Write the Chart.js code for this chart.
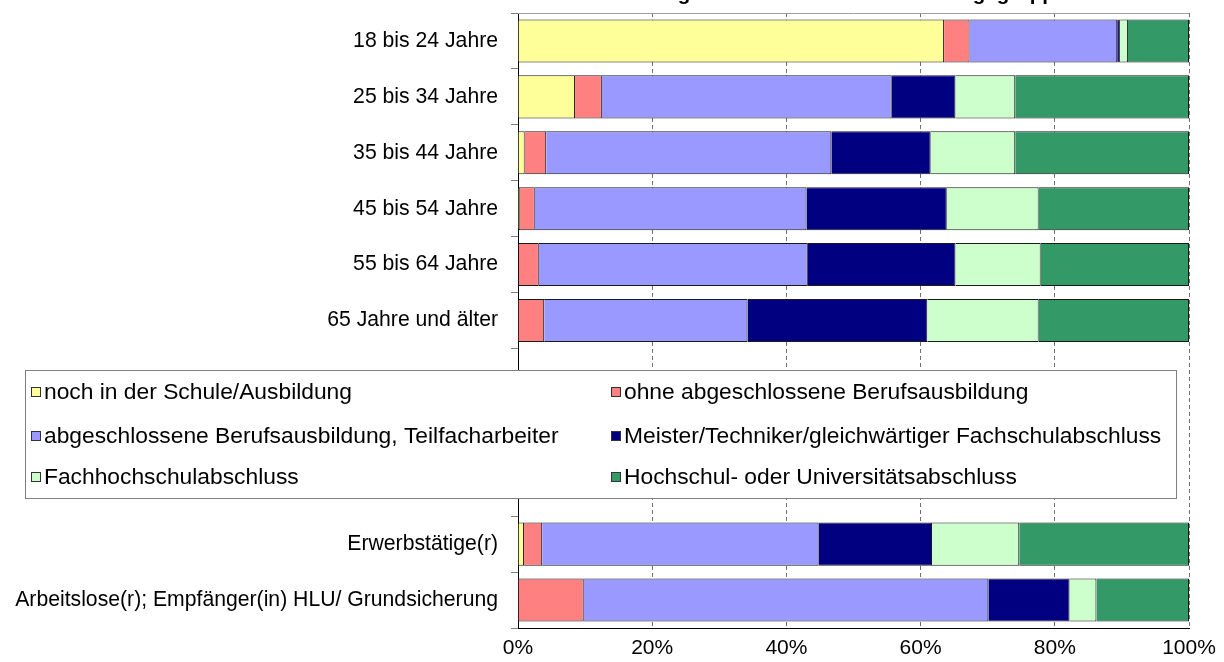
<!DOCTYPE html>
<html>
<head>
<meta charset="utf-8">
<script src="https://cdn.jsdelivr.net/npm/chart.js@4.4.1/dist/chart.umd.min.js"></script>
<style>
  html, body { margin: 0; padding: 0; background: #fff; }
  #wrap { width: 1224px; height: 662px; position: relative; }
</style>
</head>
<body>
<div id="wrap"><canvas id="chart"></canvas></div>
<script>
// categories (three empty rows sit under the legend box)
const categories = [
  '18 bis 24 Jahre', '25 bis 34 Jahre', '35 bis 44 Jahre', '45 bis 54 Jahre',
  '55 bis 64 Jahre', '65 Jahre und älter', '', '', '',
  'Erwerbstätige(r)', 'Arbeitslose(r); Empfänger(in) HLU/ Grundsicherung'
];

const seriesNames = [
  'noch in der Schule/Ausbildung',
  'ohne abgeschlossene Berufsausbildung',
  'abgeschlossene Berufsausbildung, Teilfacharbeiter',
  'Meister/Techniker/gleichwärtiger Fachschulabschluss',
  'Fachhochschulabschluss',
  'Hochschul- oder Universitätsabschluss'
];

// shares in percent
const schule  = [63.5, 8.5, 1.0, 0.3, 0.1, 0, null, null, null, 0.9, 0];
const ohne    = [3.8, 4.0, 3.2, 2.2, 3.0, 3.9, null, null, null, 2.7, 9.8];
const beruf   = [22.0, 43.2, 42.5, 40.5, 40.1, 30.3, null, null, null, 41.2, 60.3];
const meister = [0.4, 9.5, 14.8, 20.9, 22.0, 26.8, null, null, null, 16.9, 12.1];
const fh      = [1.2, 8.9, 12.6, 13.7, 12.7, 16.6, null, null, null, 13.0, 4.0];
const uni     = [9.1, 25.9, 25.9, 22.4, 22.1, 22.4, null, null, null, 25.3, 13.8];

const xTicks = [0, 20, 40, 60, 80, 100];

const colors = ['#FFFF99', '#FF8080', '#9999FF', '#000080', '#CCFFCC', '#339966'];
const titleText = 'Bildungsabschluss nach Bevölkerungsgruppen';

const FONT = '"Liberation Sans", Arial, sans-serif';

const allSeries = [schule, ohne, beruf, meister, fh, uni];
const datasets = allSeries.map((d, i) => ({
  label: seriesNames[i],
  data: d,
  backgroundColor: colors[i],
  borderColor: '#1a1a1a',
  borderWidth: 1,
  categoryPercentage: 1,
  barPercentage: 0.77
}));

// title (mostly cut off at the top) + legend box laid over the empty rows
const overlay = {
  id: 'overlay',
  afterDraw(chart) {
    const ctx = chart.ctx;
    const ca = chart.chartArea;
    ctx.save();
    // plot area top border
    ctx.strokeStyle = '#a0a0a0';
    ctx.lineWidth = 1;
    ctx.beginPath();
    ctx.moveTo(ca.left, ca.top + 0.5);
    ctx.lineTo(ca.right, ca.top + 0.5);
    ctx.stroke();

    // title
    ctx.fillStyle = '#000';
    ctx.font = 'bold 20.5px ' + FONT;
    ctx.textAlign = 'left';
    ctx.textBaseline = 'alphabetic';
    ctx.fillText(titleText, 614, 0);

    // legend
    const lx = 25, ly = 370, lw = 1151, lh = 128;
    ctx.fillStyle = '#fff';
    ctx.fillRect(lx, ly, lw, lh);
    ctx.strokeStyle = '#808080';
    ctx.lineWidth = 1;
    ctx.strokeRect(lx + 0.5, ly + 0.5, lw, lh);
    ctx.font = '22.8px ' + FONT;
    ctx.textBaseline = 'middle';
    const colX = [31, 611];
    const rowY = [392, 436, 477];
    seriesNames.forEach((name, i) => {
      const x = colX[i % 2];
      const y = rowY[Math.floor(i / 2)];
      ctx.fillStyle = colors[i];
      ctx.fillRect(x, y - 5, 10, 10);
      ctx.strokeStyle = '#333';
      ctx.strokeRect(x + 0.5, y - 4.5, 9, 9);
      ctx.fillStyle = '#000';
      ctx.fillText(name, x + 13, y + 1);
    });
    ctx.restore();
  }
};

new Chart(document.getElementById('chart'), {
  type: 'bar',
  data: { labels: categories, datasets: datasets },
  options: {
    indexAxis: 'y',
    responsive: true,
    maintainAspectRatio: false,
    animation: false,
    layout: { padding: { left: 0, right: 35, top: 13, bottom: 0 } },
    plugins: {
      legend: { display: false },
      title: { display: false },
      tooltip: { enabled: false }
    },
    scales: {
      x: {
        stacked: true,
        min: 0,
        max: 100,
        afterBuildTicks(scale) { scale.ticks = xTicks.map(v => ({ value: v })); },
        afterFit(scale) {
          scale.height = 34;
          scale.paddingLeft = 0;
          scale.paddingRight = 0;
        },
        grid: {
          color: '#707070',
          lineWidth: 1,
          drawTicks: false
        },
        // in v4 border.dash is what dashes the grid lines
        border: { display: true, color: '#000', width: 1, dash: [4, 3] },
        ticks: {
          padding: 8,
          color: '#000',
          font: { family: FONT, size: 21 },
          callback: v => v + '%'
        }
      },
      y: {
        stacked: true,
        afterFit(scale) {
          scale.width = 518;
          scale.paddingTop = 0;
          scale.paddingBottom = 0;
        },
        grid: {
          drawOnChartArea: false,
          offset: true,
          tickLength: 7,
          color: '#808080'
        },
        border: { display: true, color: '#000', width: 1 },
        ticks: {
          padding: 13,
          color: '#000',
          autoSkip: false,
          font: { family: FONT, size: 21.2 }
        }
      }
    }
  },
  plugins: [overlay]
});
</script>
</body>
</html>
